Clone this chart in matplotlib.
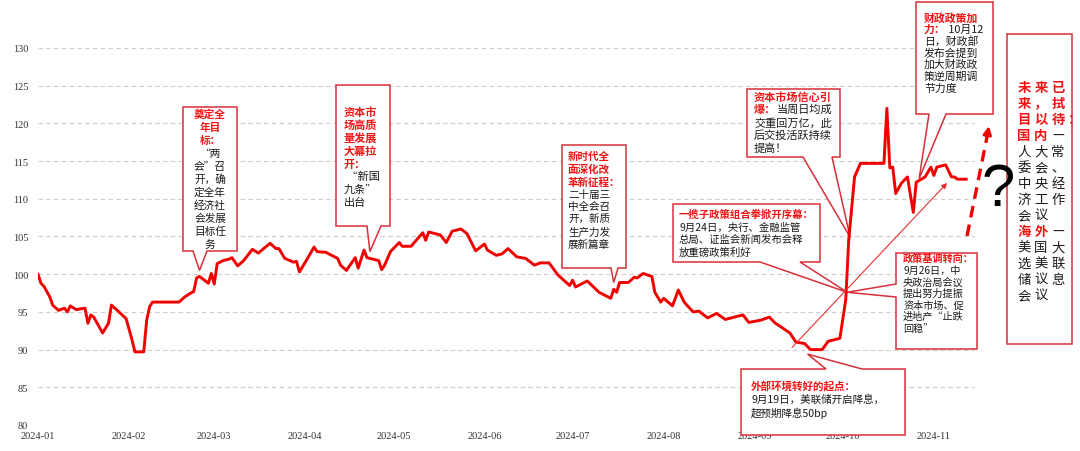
import matplotlib
matplotlib.use("Agg")
import matplotlib.pyplot as plt
import matplotlib.dates as mdates
from matplotlib.transforms import Affine2D
from matplotlib.patches import Polygon
import pandas as pd

plt.rcParams['font.family'] = ['Noto Sans CJK SC', 'DejaVu Sans']

# index level
dates = [
    "2024-01-01", "2024-01-02", "2024-01-03", "2024-01-05", "2024-01-06", "2024-01-08",
    "2024-01-10", "2024-01-11", "2024-01-12", "2024-01-14", "2024-01-17", "2024-01-18",
    "2024-01-19", "2024-01-20", "2024-01-23", "2024-01-25", "2024-01-26", "2024-01-28",
    "2024-01-31", "2024-02-02", "2024-02-03", "2024-02-06", "2024-02-07", "2024-02-08",
    "2024-02-09", "2024-02-18", "2024-02-20", "2024-02-22", "2024-02-23", "2024-02-24",
    "2024-02-25", "2024-02-28", "2024-02-29", "2024-03-01", "2024-03-02", "2024-03-04",
    "2024-03-06", "2024-03-07", "2024-03-09", "2024-03-11", "2024-03-14", "2024-03-16",
    "2024-03-20", "2024-03-22", "2024-03-23", "2024-03-25", "2024-03-28", "2024-03-29",
    "2024-03-30", "2024-04-01", "2024-04-04", "2024-04-05", "2024-04-08", "2024-04-12",
    "2024-04-13", "2024-04-15", "2024-04-18", "2024-04-19", "2024-04-21", "2024-04-22",
    "2024-04-26", "2024-04-27", "2024-04-28", "2024-04-30", "2024-05-03", "2024-05-04",
    "2024-05-07", "2024-05-11", "2024-05-12", "2024-05-13", "2024-05-17", "2024-05-19",
    "2024-05-21", "2024-05-24", "2024-05-26", "2024-05-29", "2024-06-01", "2024-06-02",
    "2024-06-05", "2024-06-07", "2024-06-09", "2024-06-12", "2024-06-15", "2024-06-17",
    "2024-06-18", "2024-06-20", "2024-06-23", "2024-06-26", "2024-06-30", "2024-07-01",
    "2024-07-02", "2024-07-06", "2024-07-10", "2024-07-14", "2024-07-15", "2024-07-16",
    "2024-07-17", "2024-07-20", "2024-07-22", "2024-07-23", "2024-07-25", "2024-07-28",
    "2024-07-29", "2024-07-31", "2024-08-01", "2024-08-04", "2024-08-06", "2024-08-08",
    "2024-08-11", "2024-08-13", "2024-08-16", "2024-08-19", "2024-08-22", "2024-08-25",
    "2024-08-28", "2024-08-30", "2024-09-03", "2024-09-06", "2024-09-08", "2024-09-10",
    "2024-09-13", "2024-09-15", "2024-09-18", "2024-09-20", "2024-09-24", "2024-09-26",
    "2024-09-30", "2024-10-02", "2024-10-03", "2024-10-05", "2024-10-07", "2024-10-15",
    "2024-10-16", "2024-10-17", "2024-10-18", "2024-10-19", "2024-10-21", "2024-10-23",
    "2024-10-25", "2024-10-26", "2024-10-29", "2024-10-31", "2024-11-01", "2024-11-02",
    "2024-11-05", "2024-11-07", "2024-11-08", "2024-11-09", "2024-11-12",
]
values = [
    100.0, 98.8, 98.4, 97.0, 95.9, 95.2,
    95.5, 95.0, 95.8, 95.3, 95.5, 93.5,
    94.6, 94.3, 92.2, 93.5, 95.9, 95.2,
    94.1, 91.3, 89.7, 89.7, 93.9, 95.7,
    96.3, 96.3, 97.0, 97.5, 97.7, 99.5,
    99.7, 98.8, 100.1, 98.7, 101.4, 101.8,
    102.0, 102.2, 101.1, 101.8, 103.3, 102.8,
    104.1, 103.4, 103.4, 102.1, 101.6, 101.7,
    100.3, 101.6, 103.6, 103.0, 102.9, 102.1,
    101.2, 100.5, 102.2, 100.8, 103.2, 102.2,
    101.8, 100.6, 101.2, 103.0, 104.2, 103.7,
    103.7, 105.5, 104.5, 105.6, 105.2, 104.2,
    105.7, 106.0, 105.4, 103.1, 104.0, 103.2,
    102.5, 102.7, 103.4, 102.3, 102.1, 101.5,
    101.2, 101.5, 101.5, 99.9, 98.5, 99.2,
    98.3, 99.1, 97.6, 96.8, 98.0, 97.6,
    98.9, 98.9, 99.6, 99.5, 100.1, 99.7,
    97.6, 96.3, 96.8, 95.8, 97.9, 96.3,
    95.0, 95.1, 94.2, 94.8, 94.0, 94.3,
    94.6, 93.6, 93.9, 94.3, 93.5, 93.0,
    92.2, 91.0, 90.8, 90.0, 90.0, 91.1,
    91.5, 96.6, 104.5, 112.9, 114.7, 114.7,
    122.0, 114.1, 114.2, 110.7, 112.1, 112.9,
    108.2, 112.2, 112.9, 114.2, 113.1, 114.2,
    114.5, 112.9, 112.9, 112.6, 112.6,
]
y_ticks = [80, 85, 90, 95, 100, 105, 110, 115, 120, 125, 130]
month_ticks = pd.date_range("2024-01-01", "2024-11-01", freq="MS")

# callout texts: each line is a list of (text, 'r' red bold / 'k' black)
R, K = 'r', 'k'
txt_a = [[("奠定全", R)], [("年目", R)], [("标：", R)], [("“两", K)], [("会”召", K)],
         [("开，确", K)], [("定全年", K)], [("经济社", K)], [("会发展", K)], [("目标任", K)], [("务", K)]]
txt_b = [[("资本市", R)], [("场高质", R)], [("量发展", R)], [("大幕拉", R)], [("开：", R)],
         [(" “新国", K)], [("九条”", K)], [("出台", K)]]
txt_c = [[("新时代全", R)], [("面深化改", R)], [("革新征程：", R)], [("二十届三", K)],
         [("中全会召", K)], [("开，新质", K)], [("生产力发", K)], [("展新篇章", K)]]
txt_d = [[("资本市场信心引", R)], [("爆：", R), ("当周日均成", K)], [("交重回万亿，此", K)],
         [("后交投活跃持续", K)], [("提高！", K)]]
txt_e = [[("一揽子政策组合拳掀开序幕：", R)], [("9月24日，央行、金融监管", K)],
         [("总局、证监会新闻发布会释", K)], [("放重磅政策利好", K)]]
txt_f = [[("政策基调转向：", R)], [("9月26日，中", K)], [("央政治局会议", K)], [("提出努力提振", K)],
         [("资本市场、促", K)], [("进地产“止跌", K)], [("回稳”", K)]]
txt_g = [[("外部环境转好的起点：", R)], [("9月19日，美联储开启降息，", K)], [("超预期降息50bp", K)]]
txt_h = [[("财政政策加", R)], [("力：", R), (" 10月12", K)], [("日，财政部", K)], [("发布会提到", K)],
         [("加大财政政", K)], [("策逆周期调", K)], [("节力度", K)]]
txt_future = [[("未", R), ("来", R), ("已", R)], [("来", R), ("，", R), ("拭", R)],
              [("目", R), ("以", R), ("待", R), ("：", R)], [("国", R), ("内", R), ("—", K)],
              [("人", K), ("大", K), ("常", K)], [("委", K), ("会", K), ("、", K)],
              [("中", K), ("央", K), ("经", K)], [("济", K), ("工", K), ("作", K)],
              [("会", K), ("议", K)], [("海", R), ("外", R), ("—", K)],
              [("美", K), ("国", K), ("大", K)], [("选", K), ("美", K), ("联", K)],
              [("储", K), ("议", K), ("息", K)], [("会", K), ("议", K)]]

RED = '#f00000'
TXT_RED = '#f01414'
BOX_RED = '#d8303a'
W, H = 1080, 452

fig = plt.figure(figsize=(W / 100, H / 100), dpi=100)
ax = fig.add_axes([38 / W, 26 / H, 937 / W, 377 / H])

ax.plot(pd.to_datetime(dates), values, color=RED, lw=2.1, zorder=4, solid_joinstyle='round')
ax.set_xlim(pd.Timestamp("2024-01-01"), pd.Timestamp("2024-11-15"))
ax.set_ylim(80, 130)
ax.set_yticks(y_ticks)
ax.set_xticks(month_ticks)
ax.xaxis.set_major_formatter(mdates.DateFormatter('%Y-%m'))
for s in ax.spines.values():
    s.set_visible(False)
ax.tick_params(length=0, labelsize=7.5, labelcolor='#333333')
ax.tick_params(axis='y', pad=7)
ax.tick_params(axis='x', pad=4)
for lab in ax.get_xticklabels() + ax.get_yticklabels():
    lab.set_family('Liberation Serif')
ax.grid(axis='y', color='#cccccc', lw=0.8, ls=(0, (4, 3)))
ax.set_axisbelow(True)

# pixel coordinates, origin top-left
T = Affine2D().scale(1, -1).translate(0, H)
renderer = fig.canvas.get_renderer()


def dnum(date):
    return mdates.date2num(pd.Timestamp(date))


def data_px(date, val):
    px, py = ax.transData.transform((dnum(date), val))
    return px, H - py


def callout(box, side=None, base=None, tip=None):
    x0, y0, x1, y1 = box
    pts = [(x0, y0)]
    if side == 'top':
        pts += [(base[0], y0), tip, (base[1], y0)]
    pts += [(x1, y0), (x1, y1)]
    if side == 'bottom':
        pts += [(base[1], y1), tip, (base[0], y1)]
    pts += [(x0, y1)]
    if side == 'left':
        pts += [(x0, base[1]), tip, (x0, base[0])]
    ax.add_patch(Polygon(pts, closed=True, transform=T, fc='white', ec=BOX_RED,
                         lw=1.1, zorder=3, clip_on=False))


def write(x0, y_first, pitch, lines, fs, ha='left'):
    for i, line in enumerate(lines):
        cx = x0
        for seg, col in line:
            t = ax.text(cx, y_first + i * pitch, seg, transform=T, fontsize=fs,
                        color=TXT_RED if col == R else '#1a1a1a',
                        weight='bold' if col == R else 'normal',
                        ha=ha, va='center', zorder=6, clip_on=False)
            cx += t.get_window_extent(renderer).width


callout((183, 108, 237, 252), 'bottom', (193, 207), data_px("2024-02-25", 100.5))
write(210, 115, 13, txt_a, 7.7, ha='center')

callout((336, 86, 390, 227), 'bottom', (367, 381), data_px("2024-04-23", 103.0))
write(344, 113, 12.8, txt_b, 8)

callout((562, 146, 626, 269), 'bottom', (611, 618), data_px("2024-07-15", 98.9))
write(568, 157, 12.6, txt_c, 7.6)

callout((747, 90, 840, 158), 'bottom', (803, 832), data_px("2024-10-03 12:00", 104.9))
write(754, 97, 13, txt_d, 8)

tip_ef = data_px("2024-10-02 12:00", 97.6)
callout((673, 205, 820, 263), 'bottom', (760, 800), tip_ef)
write(679, 215, 12.7, txt_e, 7.5)

callout((896, 254, 977, 350), 'left', (285, 298), tip_ef)
write(903, 259, 11.7, txt_f, 7.3)

callout((741, 370, 905, 436), 'top', (826, 862), data_px("2024-09-19", 89.4))
write(751, 387, 13, txt_g, 7.6)

callout((916, 3, 993, 115), 'bottom', (929, 946), data_px("2024-10-27", 112.7))
write(924, 18, 11.8, txt_h, 7.8)

# outlook box on the right, characters set on a grid
callout((1007, 35, 1072, 345))
for i, line in enumerate(txt_future):
    for j, (ch, col) in enumerate(line):
        ax.text(1024 + 17 * j, 88 + 16 * i, ch, transform=T, fontsize=9.6,
                color=TXT_RED if col == R else '#1a1a1a',
                weight='bold' if col == R else 'normal',
                ha='center', va='center', zorder=6, clip_on=False)

# thin trend arrow
ax.annotate('', xy=(dnum("2024-11-05 12:00"), 112.1),
            xytext=(dnum("2024-09-13 18:00"), 90.3),
            arrowprops=dict(arrowstyle='-|>', color='#e83030', lw=0.8,
                            mutation_scale=8, shrinkA=0, shrinkB=0), zorder=5)

# dashed outlook arrow and question mark
ax.plot([967, 987], [237, 138], transform=T, color=RED, lw=2.4, ls=(0, (3.5, 2.2)),
        clip_on=False, zorder=5)
ax.annotate('', xy=(989, 127), xytext=(987, 138), xycoords=T, textcoords=T,
            arrowprops=dict(arrowstyle='-|>', color=RED, lw=2.0, mutation_scale=12,
                            shrinkA=0, shrinkB=0), annotation_clip=False, zorder=5)
ax.text(998, 191, '?', transform=T, fontsize=43, family='Liberation Sans',
        ha='center', va='center', color='black', zorder=6, clip_on=False)

fig.savefig('out.png', dpi=100)
